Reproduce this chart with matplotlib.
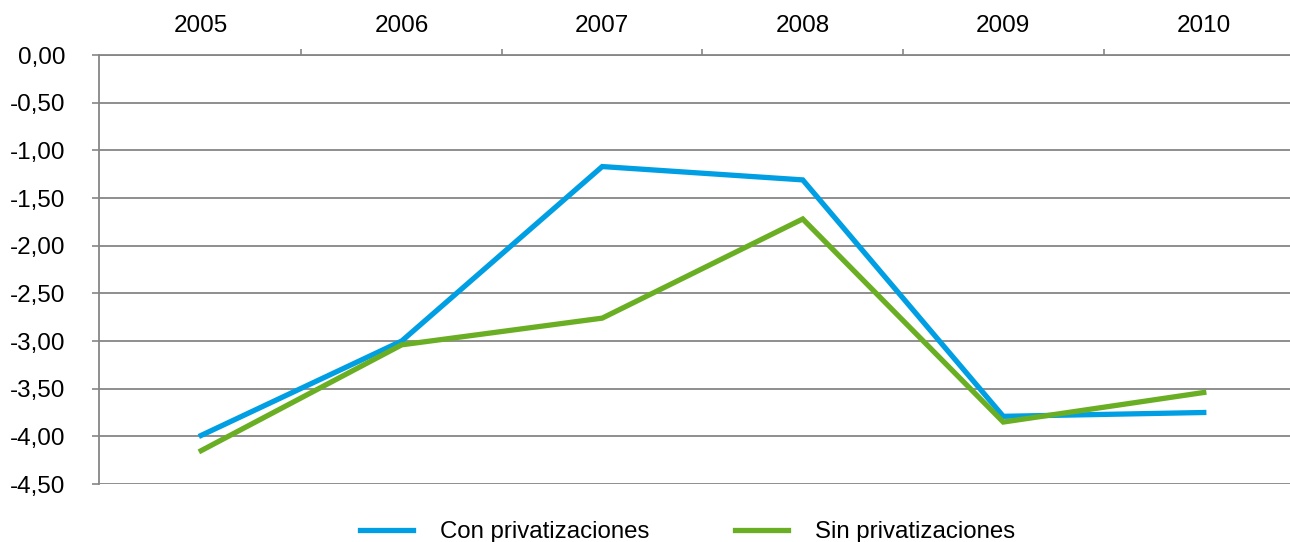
import numpy as np
import matplotlib.pyplot as plt
from matplotlib.ticker import FixedLocator, FuncFormatter

years = ["2005", "2006", "2007", "2008", "2009", "2010"]
con_priv = [-3.99, -3.00, -1.17, -1.31, -3.79, -3.75]
sin_priv = [-4.15, -3.04, -2.76, -1.72, -3.85, -3.54]

plt.rcParams["font.family"] = ["Liberation Sans", "DejaVu Sans"]

GRID = "#868686"
BLUE = "#009FE3"
GREEN = "#6AAF23"

fig = plt.figure(figsize=(12.9, 5.42), dpi=100)
ax = fig.add_axes([0.0767, 0.107, 0.9233, 0.7915])

x = np.arange(len(years))
ax.plot(x, con_priv, color=BLUE, lw=3.8, solid_joinstyle="miter",
        label="Con privatizaciones", zorder=3)
ax.plot(x, sin_priv, color=GREEN, lw=3.8, solid_joinstyle="miter",
        label="Sin privatizaciones", zorder=3)

ax.set_xlim(-0.51, 5.43)
ax.set_ylim(-4.5, 0)

# y axis
yt = np.arange(0, -4.51, -0.5)
ax.set_yticks(yt)
ax.yaxis.set_major_formatter(FuncFormatter(lambda v, _: f"{v:.2f}".replace(".", ",")))
ax.tick_params(axis="y", length=5, width=1.2, color=GRID, pad=19, labelsize=17.5)
ax.grid(axis="y", color=GRID, lw=1.3)
ax.set_axisbelow(True)

# x axis on top
ax.xaxis.tick_top()
ax.set_xticks(x)
ax.set_xticklabels(years)
ax.xaxis.set_minor_locator(FixedLocator(x[1:] - 0.5))
ax.tick_params(axis="x", which="major", length=0, pad=13, labelsize=17.5)
ax.tick_params(axis="x", which="minor", top=True, bottom=False, length=4,
               width=1.2, color=GRID)

for side in ["right", "bottom"]:
    ax.spines[side].set_visible(False)
for side in ["left", "top"]:
    ax.spines[side].set_color(GRID)
    ax.spines[side].set_linewidth(1.3)

fig.legend(loc="center", bbox_to_anchor=(0.533, 0.018), ncol=2, frameon=False,
           fontsize=17.3, handlelength=2.2, handletextpad=1.1, columnspacing=3.6)

fig.savefig("out.png", dpi=100)
